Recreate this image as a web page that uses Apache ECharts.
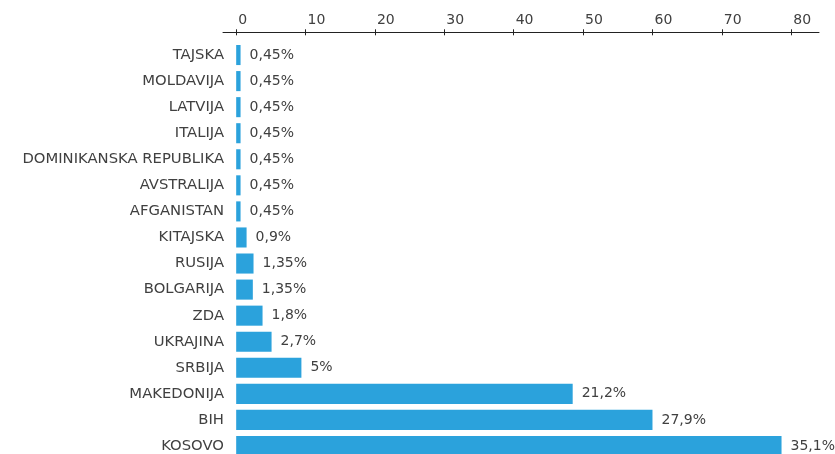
<!DOCTYPE html>
<html>
<head>
<meta charset="utf-8">
<script src="https://cdn.jsdelivr.net/npm/echarts@6/dist/echarts.min.js"></script>
<style>
html,body{margin:0;padding:0;background:#fff;}
#chart{width:835px;height:454px;}
</style>
</head>
<body>
<div id="chart"></div>
<script>
var categories = ['TAJSKA','MOLDAVIJA','LATVIJA','ITALIJA','DOMINIKANSKA REPUBLIKA','AVSTRALIJA','AFGANISTAN','KITAJSKA','RUSIJA','BOLGARIJA','ZDA','UKRAJINA','SRBIJA','MAKEDONIJA','BIH','KOSOVO'];
var barValues = [0.63,0.63,0.63,0.63,0.63,0.63,0.63,1.5,2.5,2.4,3.8,5.1,9.4,48.5,60.0,78.6];
var valueLabels = ['0,45%','0,45%','0,45%','0,45%','0,45%','0,45%','0,45%','0,9%','1,35%','1,35%','1,8%','2,7%','5%','21,2%','27,9%','35,1%'];
var tickValues = [0,10,20,30,40,50,60,70,80];

var FONT = '"DejaVu Sans"';
var TEXT = '#404040';
var chart = echarts.init(document.getElementById('chart'), null, {renderer:'canvas'});
chart.setOption({
  animation:false,
  backgroundColor:'#ffffff',
  grid:{left:223,right:16,top:42,height:417,outerBoundsMode:'none',containLabel:false},
  xAxis:[{
    type:'value',position:'top',min:-1.9,max:84,offset:9.7,
    splitLine:{show:false},
    axisLine:{show:true,lineStyle:{color:'#222',width:1}},
    axisTick:{show:true,customValues:tickValues,length:3,lineStyle:{color:'#222'}},
    axisLabel:{show:true,customValues:tickValues,align:'left',padding:[0,0,0,2],margin:5,fontFamily:FONT,fontSize:14,color:TEXT,
      formatter:function(v){return String(v);}}
  },{
    type:'value',position:'top',min:-1.9,max:84,offset:9.7,
    splitLine:{show:false},
    axisLine:{show:false},
    axisTick:{show:true,inside:true,customValues:tickValues,length:3,lineStyle:{color:'#222'}},
    axisLabel:{show:false}
  }],
  yAxis:{
    type:'category',data:categories,inverse:true,
    axisLine:{show:false},axisTick:{show:false},splitLine:{show:false},
    axisLabel:{margin:-1,fontFamily:FONT,fontSize:14.8,color:TEXT}
  },
  series:[{
    type:'bar',xAxisIndex:0,data:barValues,barCategoryGap:'23%',
    itemStyle:{color:'#2ba2dc'},
    label:{show:true,position:'right',distance:9,fontFamily:FONT,fontSize:14,color:TEXT,
      formatter:function(p){return valueLabels[p.dataIndex];}}
  }]
});
</script>
</body>
</html>
